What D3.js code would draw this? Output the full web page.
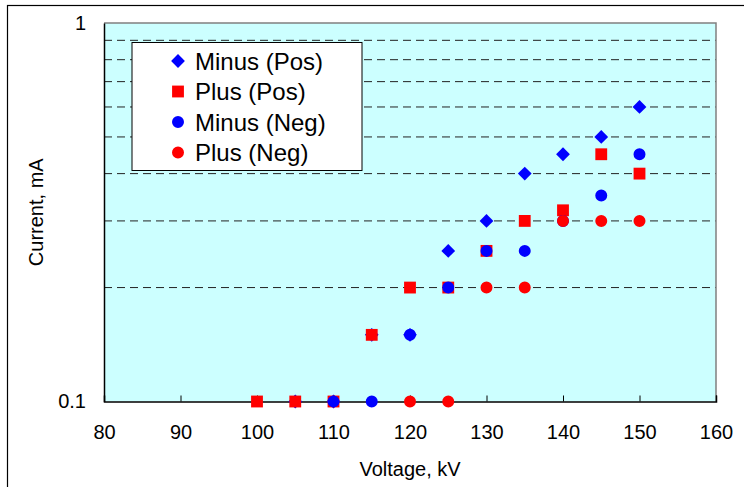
<!DOCTYPE html>
<html>
<head>
<meta charset="utf-8">
<script src="https://cdn.jsdelivr.net/npm/d3@7"></script>
<style>
  html, body { margin: 0; padding: 0; background: #fff; }
  svg { display: block; font-family: "Liberation Sans", Arial, sans-serif; }
</style>
</head>
<body>
<svg id="chart" width="744" height="487"></svg>
<script>
// ---- data ----
const seriesNames = ["Minus (Pos)", "Plus (Pos)", "Minus (Neg)", "Plus (Neg)"];
const minusPosV = [105, 110, 115, 120, 125, 130, 135, 140, 145, 150];
const minusPosI = [0.1, 0.1, 0.15, 0.15, 0.25, 0.3, 0.4, 0.45, 0.5, 0.6];
const plusPosV  = [100, 105, 110, 115, 120, 125, 130, 135, 140, 145, 150];
const plusPosI  = [0.1, 0.1, 0.1, 0.15, 0.2, 0.2, 0.25, 0.3, 0.32, 0.45, 0.4];
const minusNegV = [110, 115, 120, 125, 130, 135, 140, 145, 150];
const minusNegI = [0.1, 0.1, 0.15, 0.2, 0.25, 0.25, 0.3, 0.35, 0.45];
const plusNegV  = [120, 125, 130, 135, 140, 145, 150];
const plusNegI  = [0.1, 0.1, 0.2, 0.2, 0.3, 0.3, 0.3];
const xTicks = [80, 90, 100, 110, 120, 130, 140, 150, 160];
const yLabelTicks = [0.1, 1];
const yGridTicks = [0.2, 0.3, 0.4, 0.5, 0.6, 0.7, 0.8, 0.9];

// ---- layout ----
const L = 104, R = 716, T = 23, B = 401.5;
const svg = d3.select("#chart");
const x = d3.scaleLinear().domain([80, 160]).range([L, R]);
const y = d3.scaleLog().domain([0.1, 1]).range([B, T]);

// outer frame (cropped at right/bottom)
svg.append("rect").attr("x", 7.5).attr("y", 5.5).attr("width", 760).attr("height", 500)
  .attr("fill", "#fff").attr("stroke", "#000").attr("stroke-width", 1.2);

// plot background
svg.append("rect").attr("x", L).attr("y", T).attr("width", R - L).attr("height", B - T)
  .attr("fill", "#CCFFFF");

// grid lines
svg.append("g").selectAll("line").data(yGridTicks).join("line")
  .attr("x1", L).attr("x2", R)
  .attr("y1", d => y(d)).attr("y2", d => y(d))
  .attr("stroke", "#222").attr("stroke-width", 1)
  .attr("stroke-dasharray", "8,5");

// plot border top/right grey
svg.append("path")
  .attr("d", `M${L},${T}H${R}V${B}`)
  .attr("fill", "none").attr("stroke", "#808080").attr("stroke-width", 1.5);

// x axis
const xAxis = d3.axisBottom(x).tickValues(xTicks).tickSize(-6).tickPadding(23).tickFormat(d3.format("d"));
const gx = svg.append("g").attr("transform", `translate(0,${B})`).call(xAxis);
gx.select(".domain").attr("stroke", "#000").attr("stroke-width", 1.5);
gx.selectAll(".tick line").attr("stroke", "#000");
gx.selectAll(".tick text").attr("font-size", 20).attr("fill", "#000")
  .attr("font-family", "Liberation Sans, Arial, sans-serif");

// y axis
const yAxis = d3.axisLeft(y).tickValues(yLabelTicks).tickSize(0).tickPadding(18)
  .tickFormat(d => d === 1 ? "1" : "0.1");
const gy = svg.append("g").attr("transform", `translate(${L},0)`).call(yAxis);
gy.select(".domain").attr("stroke", "#000").attr("stroke-width", 1.5);
gy.selectAll(".tick text").attr("font-size", 20).attr("fill", "#000")
  .attr("font-family", "Liberation Sans, Arial, sans-serif");

// axis titles
svg.append("text").attr("x", (L + R) / 2).attr("y", 476).attr("text-anchor", "middle")
  .attr("font-size", 20).text("Voltage, kV");
svg.append("text").attr("transform", `translate(43,${(T + B) / 2}) rotate(-90)`)
  .attr("text-anchor", "middle").attr("font-size", 20).text("Current, mA");

// markers
const blue = "#0000FF", red = "#FF0000";
const sq = d3.symbol().type(d3.symbolSquare).size(140);
const dia = d3.symbol().type(d3.symbolSquare).size(95);
const circ = d3.symbol().type(d3.symbolCircle).size(113);
const series = [
  { v: minusPosV, i: minusPosI, kind: "diamond", color: blue },
  { v: plusPosV, i: plusPosI, kind: "square", color: red },
  { v: minusNegV, i: minusNegI, kind: "circle", color: blue },
  { v: plusNegV, i: plusNegI, kind: "circle", color: red }
];
function symPath(k) {
  if (k === "diamond") return dia();
  if (k === "square") return sq();
  return circ();
}
function symTransform(k, px, py) {
  return k === "diamond" ? `translate(${px},${py}) rotate(45)` : `translate(${px},${py})`;
}
series.forEach(s => {
  svg.append("g").selectAll("path").data(s.v.map((v, k) => [v, s.i[k]])).join("path")
    .attr("d", symPath(s.kind))
    .attr("transform", d => symTransform(s.kind, x(d[0]), y(d[1])))
    .attr("fill", s.color);
});

// legend
const lg = svg.append("g");
lg.append("rect").attr("x", 132).attr("y", 42.5).attr("width", 230).attr("height", 128)
  .attr("fill", "#fff").attr("stroke", "#000").attr("stroke-width", 1);
const rowY = [61, 91.5, 122, 152.5];
series.forEach((s, k) => {
  lg.append("path").attr("d", symPath(s.kind))
    .attr("transform", symTransform(s.kind, 178, rowY[k]))
    .attr("fill", s.color);
  lg.append("text").attr("x", 195).attr("y", rowY[k]).attr("dy", "0.36em")
    .attr("font-size", 24).text(seriesNames[k]);
});
</script>
</body>
</html>
